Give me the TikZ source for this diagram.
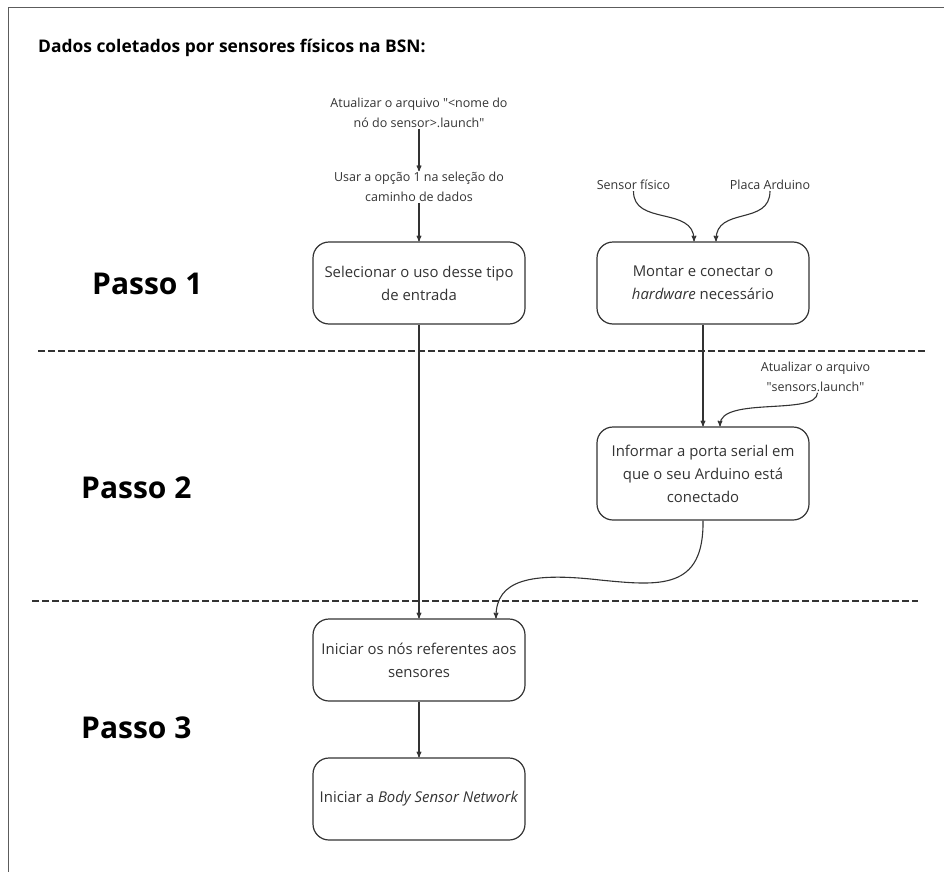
\documentclass[tikz,border=0pt]{standalone}
\usepackage{fontspec}
\setmainfont{Open Sans}
\usetikzlibrary{arrows, positioning}
\definecolor{my_gray}{RGB}{51, 51, 51}
\tikzset {
  stepbox/.style = {draw=my_gray, line width=1.2pt, rounded corners=16pt, rectangle, minimum width=212pt, minimum height=82pt, align=center, text=my_gray, inner sep=0pt, font=\fontsize{14.9}{23}\selectfont},
  note/.style = {align=center, text=my_gray, inner sep=1pt, font=\fontsize{12.5}{19.5}\selectfont},
  passo/.style = {anchor=west, inner sep=0pt, font=\fontsize{30}{36}\selectfont\bfseries},
  line/.style = {->, line width=1.1pt, color=my_gray, >=stealth'},
  divider/.style = {line width=2.2pt, color=my_gray, dash pattern=on 7pt off 3pt},
}

\begin{document}
\begin{tikzpicture}[x=1pt, y=1pt]
    \useasboundingbox (0,-872) rectangle (944,0);
    \draw[line width=1pt, color=my_gray!80] (944,-8) -- (8,-8) -- (8,-872);

    \node[anchor=west, inner sep=0pt, font=\fontsize{17.4}{22}\selectfont\bfseries] (title) at (38,-48) {Dados coletados por sensores físicos na BSN:};

    % passos
    \node[passo] (p1) at (92,-284) {Passo 1};
    \node[passo] (p2) at (81,-488) {Passo 2};
    \node[passo] (p3) at (81,-728) {Passo 3};

    \draw[divider] (38,-351) -- (928,-351);
    \draw[divider] (32,-601) -- (918,-601);

    % caixas
    \node[stepbox] (sel) at (419,-283) {Selecionar o uso desse tipo\\de entrada};
    \node[stepbox] (hw) at (703,-283) {Montar e conectar o\\\textit{hardware} necessário};
    \node[stepbox, minimum height=93pt] (porta) at (703,-473.5) {Informar a porta serial em\\que o seu Arduino está\\conectado};
    \node[stepbox] (inic) at (419,-660) {Iniciar os nós referentes aos\\sensores};
    \node[stepbox] (bsn) at (419,-799) {Iniciar a \textit{Body Sensor Network}};

    % notas
    \node[note] (upd) at (419,-113) {Atualizar o arquivo \textquotedbl<nome do\\nó do sensor>.launch\textquotedbl};
    \node[note] (opt) at (419,-187) {Usar a opção 1 na seleção do\\caminho de dados};
    \node[note] (sensor) at (633.5,-185) {Sensor físico};
    \node[note] (placa) at (770,-185) {Placa Arduino};
    \node[note] (updsens) at (815.5,-377) {Atualizar o arquivo\\\textquotedbl sensors.launch\textquotedbl};

    \draw[line] (upd) -- (opt);
    \draw[line] (opt) -- (sel);
    \draw[line] (sensor.south) .. controls (633,-226) and (694,-206) .. ([xshift=-9pt]hw.north);
    \draw[line] (placa.south) .. controls (770,-226) and (716,-206) .. ([xshift=13pt]hw.north);
    \draw[line] (sel) -- (inic);
    \draw[line] (hw) -- (porta);
    \draw[line] ([xshift=2pt]updsens.south) .. controls (817,-416) and (720,-396) .. ([xshift=17pt]porta.north);
    \draw[line] (porta.south) .. controls (704,-590) and (660,-586) .. (600,-580) .. controls (530,-572) and (496,-580) .. ([xshift=77pt]inic.north);
    \draw[line] (inic) -- (bsn);

  \end{tikzpicture}
\end{document}
